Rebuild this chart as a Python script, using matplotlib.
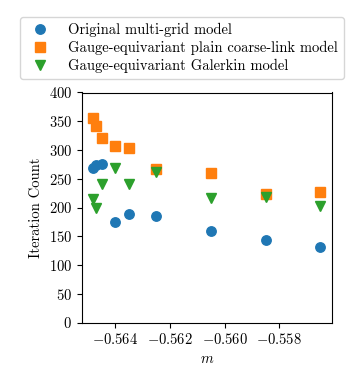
import numpy as np
import matplotlib
matplotlib.use('Agg')
import matplotlib.pyplot as plt

plt.rcParams['font.family'] = 'serif'
plt.rcParams['font.serif'] = ['cmr10', 'DejaVu Serif']
plt.rcParams['mathtext.fontset'] = 'cm'
plt.rcParams['axes.formatter.use_mathtext'] = True
plt.rcParams['font.size'] = 10.5

# mass values
m = [-0.5648, -0.5647, -0.5645, -0.5640, -0.5635, -0.5625, -0.5605, -0.5585, -0.5565]
# iteration counts
original = [269, 274, 276, 175, 189, 186, 159, 143, 131]
plain_coarse = [356, 342, 320, 307, 304, 267, 260, 223, 227]
galerkin = [214, 200, 240, 268, 240, 262, 216, 219, 203]

labels = ['Original multi-grid model',
          'Gauge-equivariant plain coarse-link model',
          'Gauge-equivariant Galerkin model']

fig = plt.figure(figsize=(3.51, 3.82), dpi=100)
ax = fig.add_axes([82 / 351, 1 - 322.5 / 382, 250 / 351, 230 / 382])

ax.plot(m, original, 'o', color='tab:blue', markersize=6.8, label=labels[0])
ax.plot(m, plain_coarse, 's', color='tab:orange', markersize=6.8, label=labels[1])
ax.plot(m, galerkin, 'v', color='tab:green', markersize=6.8, label=labels[2])

ax.set_ylim(0, 400)
ax.set_yticks(np.arange(0, 401, 50))
ax.set_xlim(-0.56522, -0.55607)
ax.set_xticks([-0.564, -0.562, -0.560, -0.558])
ax.set_xticklabels([r'$-0.564$', r'$-0.562$', r'$-0.560$', r'$-0.558$'])
ax.set_xlabel(r'$m$')
ax.set_ylabel('Iteration Count')

fig.legend(loc='upper left', bbox_to_anchor=(20 / 351, 1 - 17 / 382),
           frameon=True, borderaxespad=0, labelspacing=0.25,
           handletextpad=0.9)

fig.savefig('out.png', dpi=100)
